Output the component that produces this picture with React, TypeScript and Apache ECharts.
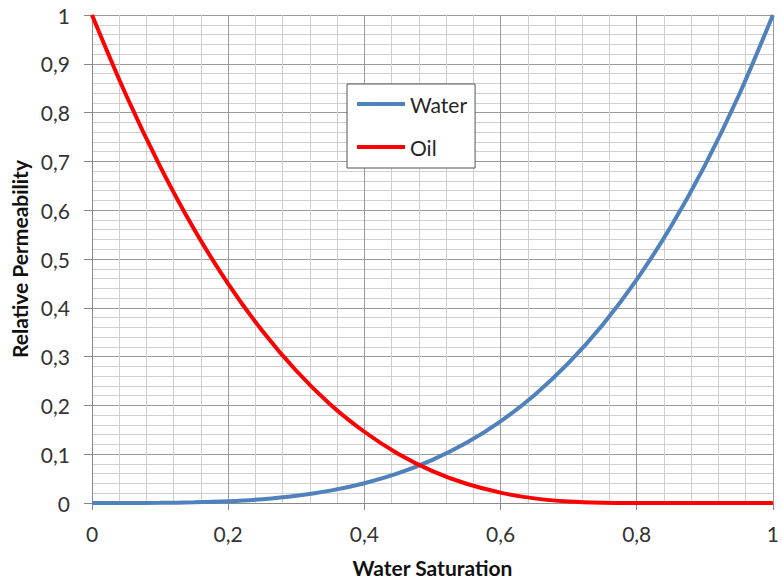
import React, { useEffect, useRef } from "react";
import * as echarts from "echarts";

const saturation = [0, 0.05, 0.1, 0.15, 0.2, 0.25, 0.3, 0.35, 0.4, 0.45, 0.5, 0.55, 0.6, 0.65, 0.7, 0.75, 0.8, 0.85, 0.9, 0.95, 1];
const waterKr = [0, 0.0001, 0.0003, 0.0013, 0.0036, 0.0078, 0.0148, 0.0253, 0.0405, 0.061, 0.0884, 0.1233, 0.1673, 0.2215, 0.287, 0.3654, 0.4579, 0.5661, 0.6915, 0.8356, 1];
const oilKr = [1, 0.836, 0.69, 0.561, 0.449, 0.353, 0.271, 0.202, 0.146, 0.1004, 0.0654, 0.0394, 0.0212, 0.0095, 0.0031, 0.0005, 0, 0, 0, 0, 0];

const FONT = "Lato, 'Open Sans', sans-serif";
const fmt = (v: number) => String(Math.round(v * 10) / 10).replace(".", ",");

export default function App() {
  const ref = useRef<HTMLDivElement>(null);
  useEffect(() => {
    document.body.style.margin = "0";
    const chart = echarts.init(ref.current!, null, { renderer: "svg" });
    chart.setOption({
      animation: false,
      backgroundColor: "#ffffff",
      textStyle: { fontFamily: FONT },
      grid: { left: 92, right: 3, top: 15, bottom: 80 },
      legend: {
        left: 347,
        top: 84,
        orient: "vertical",
        backgroundColor: "#ffffff",
        borderColor: "#555555",
        borderWidth: 1,
        borderRadius: 0,
        padding: [9, 8, 10, 10],
        icon: "rect",
        itemWidth: 48,
        itemHeight: 4,
        itemGap: 21,
        textStyle: { fontFamily: FONT, fontSize: 21, color: "#262626", lineHeight: 22 },
        data: ["Water", "Oil"],
      },
      xAxis: {
        type: "value",
        min: 0,
        max: 1,
        interval: 0.2,
        name: "Water Saturation",
        nameLocation: "middle",
        nameGap: 54,
        nameTextStyle: { fontFamily: FONT, fontSize: 21, fontWeight: "bold", color: "#111" },
        axisLine: { show: true, lineStyle: { color: "#888", width: 1 } },
        axisTick: { show: true, length: 7, lineStyle: { color: "#888" } },
        axisLabel: { margin: 20, fontSize: 21, color: "#333", fontFamily: FONT, formatter: fmt },
        splitLine: { show: true, lineStyle: { color: "#9a9a9a", width: 1 } },
        minorTick: { show: false, splitNumber: 5 },
        minorSplitLine: { show: true, lineStyle: { color: "#cfcfcf", width: 1 } },
      },
      yAxis: {
        type: "value",
        min: 0,
        max: 1,
        interval: 0.1,
        name: "Relative Permeability",
        nameLocation: "middle",
        nameGap: 60,
        nameTextStyle: { fontFamily: FONT, fontSize: 21, fontWeight: "bold", color: "#111" },
        axisLine: { show: true, lineStyle: { color: "#888", width: 1 } },
        axisTick: { show: true, length: 8, lineStyle: { color: "#888" } },
        axisLabel: { margin: 22, fontSize: 21, color: "#333", fontFamily: FONT, formatter: fmt },
        splitLine: { show: true, lineStyle: { color: "#9a9a9a", width: 1 } },
        minorTick: { show: false, splitNumber: 5 },
        minorSplitLine: { show: true, lineStyle: { color: "#cfcfcf", width: 1 } },
      },
      series: [
        {
          name: "Water",
          type: "line",
          smooth: 0.3,
          showSymbol: false,
          data: saturation.map((s, i) => [s, waterKr[i]]),
          lineStyle: { color: "#4F81BD", width: 4 },
          itemStyle: { color: "#4F81BD" },
        },
        {
          name: "Oil",
          type: "line",
          smooth: 0.3,
          showSymbol: false,
          data: saturation.map((s, i) => [s, oilKr[i]]),
          lineStyle: { color: "#FF0000", width: 4 },
          itemStyle: { color: "#FF0000" },
        },
      ],
    });
    return () => chart.dispose();
  }, []);
  return <div ref={ref} style={{ width: 782, height: 583 }} />;
}
